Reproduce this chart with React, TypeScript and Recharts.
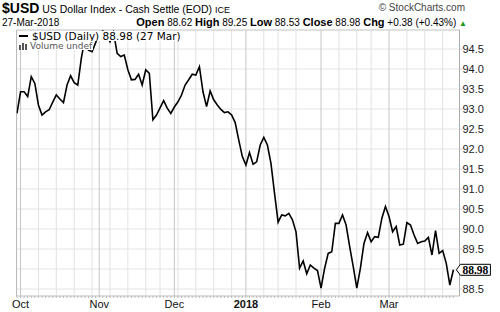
import { LineChart, Line, XAxis, YAxis, CartesianGrid, ReferenceLine, ReferenceDot } from 'recharts';

// trading calendar (ICE EOD, US holidays skipped)
const START = '2017-09-29';
const END = '2018-03-27';
const HOLIDAYS = ['2017-11-23', '2017-12-25', '2018-01-01', '2018-01-15', '2018-02-19'];

// daily closes, Sep 29 -> Mar 27
const CLOSES = [
  92.89, 93.43, 93.43, 93.31, 93.81, 93.64, 93.1, 92.85, 92.93, 92.98,
  93.17, 93.35, 93.25, 93.16, 93.6, 93.83, 93.66, 93.6, 94.27, 94.75,
  94.47, 94.43, 94.66, 94.9, 94.95, 94.85, 94.68, 94.92, 94.39, 94.31,
  94.35, 93.98, 93.73, 93.74, 93.87, 93.6, 93.98, 93.89, 92.73, 92.85,
  93.03, 93.21, 93.02, 92.89, 93.05, 93.18, 93.35, 93.6, 93.73, 93.87,
  93.85, 94.06, 93.43, 93.06, 93.45, 93.23, 93.1, 92.99, 92.91, 92.93,
  92.85, 92.66, 92.22, 91.81, 91.6, 91.91, 91.62, 91.68, 92.1, 92.29,
  92.1, 91.64, 90.89, 90.17, 90.35, 90.33, 90.39, 90.23, 89.93, 89.02,
  89.2, 88.88, 89.1, 89.02, 88.96, 88.52, 89.02, 89.39, 89.43, 90.14,
  90.14, 90.35, 90.1, 89.56, 89.06, 88.52, 89.02, 89.64, 89.91, 89.68,
  89.81, 89.79, 90.27, 90.56, 90.31, 89.93, 90.06, 89.6, 89.62, 90.16,
  90.1, 89.85, 89.64, 89.68, 89.7, 89.79, 89.35, 89.96, 89.39, 89.46,
  89.14, 88.6, 88.98,
];

const MONTH_STARTS = ['2017-10-02', '2017-11-01', '2017-12-01', '2018-01-02', '2018-02-01', '2018-03-01'];
const MONTH_LABELS = ['Oct', 'Nov', 'Dec', '2018', 'Feb', 'Mar'];
const WEEK_LINES = [
  '2017-10-09', '2017-10-16', '2017-10-23', '2017-10-30',
  '2017-11-06', '2017-11-13', '2017-11-20', '2017-11-27',
  '2017-12-04', '2017-12-11', '2017-12-18', '2017-12-26',
  '2018-01-09', '2018-01-16', '2018-01-23',
  '2018-02-08', '2018-02-15', '2018-02-22',
  '2018-03-08', '2018-03-15', '2018-03-22',
];
const Y_TICKS = [88.5, 89, 89.5, 90, 90.5, 91, 91.5, 92, 92.5, 93, 93.5, 94, 94.5];
const Y_DOMAIN: [number, number] = [88.325, 94.975];

function tradingDays() {
  const out: string[] = [];
  const d = new Date(START + 'T00:00:00Z');
  const end = new Date(END + 'T00:00:00Z');
  while (d <= end) {
    const dow = d.getUTCDay();
    const s = d.toISOString().slice(0, 10);
    if (dow !== 0 && dow !== 6 && !HOLIDAYS.includes(s)) out.push(s);
    d.setUTCDate(d.getUTCDate() + 1);
  }
  return out;
}

const DAYS = tradingDays();
const data = DAYS.map((date, i) => ({ i, date, close: CLOSES[i] }));
const lastIdx = data.length - 1;
const lastClose = CLOSES[CLOSES.length - 1];
const monthIdx = MONTH_STARTS.map((d) => DAYS.indexOf(d));
const weekIdx = WEEK_LINES.map((d) => DAYS.indexOf(d)).filter((i) => i >= 0);
const X_DOMAIN: [number, number] = [-0.1, lastIdx + 1.7];

const SANS = "'Liberation Sans', Arial, sans-serif";

function MonthTick(props: any) {
  const { x, y, payload } = props;
  const k = monthIdx.indexOf(payload.value);
  if (k < 0) return <g />;
  const label = MONTH_LABELS[k];
  return (
    <text x={x} y={y} dy="0.71em" textAnchor="middle" fontFamily={SANS} fontSize={11}
      fontWeight={label === '2018' ? 'bold' : 'normal'} fill="#111">
      {label}
    </text>
  );
}

function PriceTick(props: any) {
  const { x, y, payload } = props;
  // the close tag sits on top of this one
  if (Math.abs(payload.value - lastClose) < 0.25) return <g />;
  return (
    <text x={x} y={y} dy="0.35em" textAnchor="start" fontFamily={SANS} fontSize={11} fill="#222">
      {payload.value.toFixed(1)}
    </text>
  );
}

function CloseTag(props: any) {
  const { cx, cy } = props;
  const h = 5.5;
  const pts = `${cx + 3},${cy} ${cx + 7},${cy - h} ${cx + 37},${cy - h} ${cx + 37},${cy + h} ${cx + 7},${cy + h}`;
  return (
    <g>
      <polygon points={pts} fill="#fff" stroke="#000" strokeWidth={1} />
      <text x={cx + 22} y={cy} dy="0.36em" textAnchor="middle" fontFamily="'Liberation Serif', serif"
        fontWeight="bold" fontSize={11.5} fill="#000">
        {lastClose.toFixed(2)}
      </text>
    </g>
  );
}

export default function App() {
  return (
    <div style={{ position: 'relative', width: 500, height: 312, background: '#fff', fontFamily: SANS, overflow: 'hidden' }}>
      <style>{'body{margin:0}'}</style>

      {/* title rows */}
      <div style={{ position: 'absolute', left: 2, top: 0, whiteSpace: 'nowrap', color: '#000', lineHeight: '15px' }}>
        <span style={{ fontWeight: 'bold', fontSize: 14 }}>$USD</span>
        <span style={{ fontSize: 10.5 }}> US Dollar Index - Cash Settle (EOD) </span>
        <span style={{ fontSize: 9 }}>ICE</span>
      </div>
      <div style={{ position: 'absolute', right: 35, top: 1, whiteSpace: 'nowrap', color: '#444', fontSize: 10, lineHeight: '13px' }}>
        © StockCharts.com
      </div>
      <div style={{ position: 'absolute', left: 2, top: 16, whiteSpace: 'nowrap', fontSize: 10, lineHeight: '13px' }}>
        27-Mar-2018
      </div>
      <div style={{ position: 'absolute', right: 33, top: 16, whiteSpace: 'nowrap', fontSize: 10, lineHeight: '13px' }}>
        <b style={{ fontSize: 11 }}>Open</b> 88.62 <b style={{ fontSize: 11 }}>High</b> 89.25{' '}
        <b style={{ fontSize: 11 }}>Low</b> 88.53 <b style={{ fontSize: 11 }}>Close</b> 88.98{' '}
        <b style={{ fontSize: 11 }}>Chg</b> +0.38 (+0.43%) <span style={{ color: '#1a9a1a', fontSize: 8 }}>▲</span>
      </div>

      {/* in-chart legend, white boxes over the plot */}
      <div style={{ position: 'absolute', left: 18, top: 30.5, zIndex: 2, background: '#fff', height: 10.5, display: 'flex', alignItems: 'center', paddingRight: 2 }}>
        <span style={{ display: 'inline-block', width: 9, height: 2.5, background: '#000', marginRight: 4, marginLeft: 1 }} />
        <span style={{ fontFamily: "'DejaVu Sans', sans-serif", fontSize: 10.5, lineHeight: '10px', color: '#000', whiteSpace: 'nowrap' }}>
          $USD (Daily) 88.98 (27 Mar)
        </span>
      </div>
      <div style={{ position: 'absolute', left: 18, top: 41, zIndex: 2, background: '#fff', height: 9, display: 'flex', alignItems: 'flex-end', paddingRight: 1 }}>
        <svg width={11} height={8} style={{ marginRight: 1 }}>
          <rect x={1} y={3} width={2} height={5} fill="#555" />
          <rect x={4} y={1} width={2} height={7} fill="#555" />
          <rect x={7} y={2} width={2} height={6} fill="#555" />
        </svg>
        <span style={{ fontFamily: "'DejaVu Sans', sans-serif", fontSize: 9, lineHeight: '8px', color: '#555', whiteSpace: 'nowrap' }}>
          Volume undef
        </span>
      </div>

      <LineChart width={500} height={312} data={data} margin={{ top: 30, right: 0, bottom: 0, left: 16.6 }}>
        <CartesianGrid horizontal vertical={false} stroke="#e4e4e4" />
        {weekIdx.map((i) => (
          <ReferenceLine key={'w' + i} x={i} stroke="#e2e2e2" strokeWidth={1} />
        ))}
        {monthIdx.map((i) => (
          <ReferenceLine key={'m' + i} x={i} stroke="#c6c6c6" strokeWidth={1} />
        ))}
        <ReferenceLine y={Y_DOMAIN[1]} stroke="#cfcfcf" />
        <ReferenceLine x={X_DOMAIN[0]} stroke="#b5b5b5" />
        <XAxis
          dataKey="i"
          type="number"
          domain={X_DOMAIN}
          allowDataOverflow
          ticks={data.map((d) => d.i)}
          interval={0}
          tick={<MonthTick />}
          tickSize={2}
          tickMargin={2}
          tickLine={{ stroke: '#bbb' }}
          axisLine={{ stroke: '#c8c8c8' }}
          height={16}
        />
        <YAxis
          orientation="right"
          domain={Y_DOMAIN}
          allowDataOverflow
          ticks={Y_TICKS}
          interval={0}
          tick={<PriceTick />}
          tickSize={3}
          tickMargin={0}
          tickLine={{ stroke: '#d0d0d0' }}
          axisLine={{ stroke: '#aaa' }}
          width={40.5}
        />
        <Line
          type="linear"
          dataKey="close"
          stroke="#000"
          strokeWidth={1.6}
          dot={false}
          isAnimationActive={false}
        />
        <ReferenceDot x={lastIdx} y={lastClose} r={0} ifOverflow="visible" shape={<CloseTag />} />
      </LineChart>
    </div>
  );
}
